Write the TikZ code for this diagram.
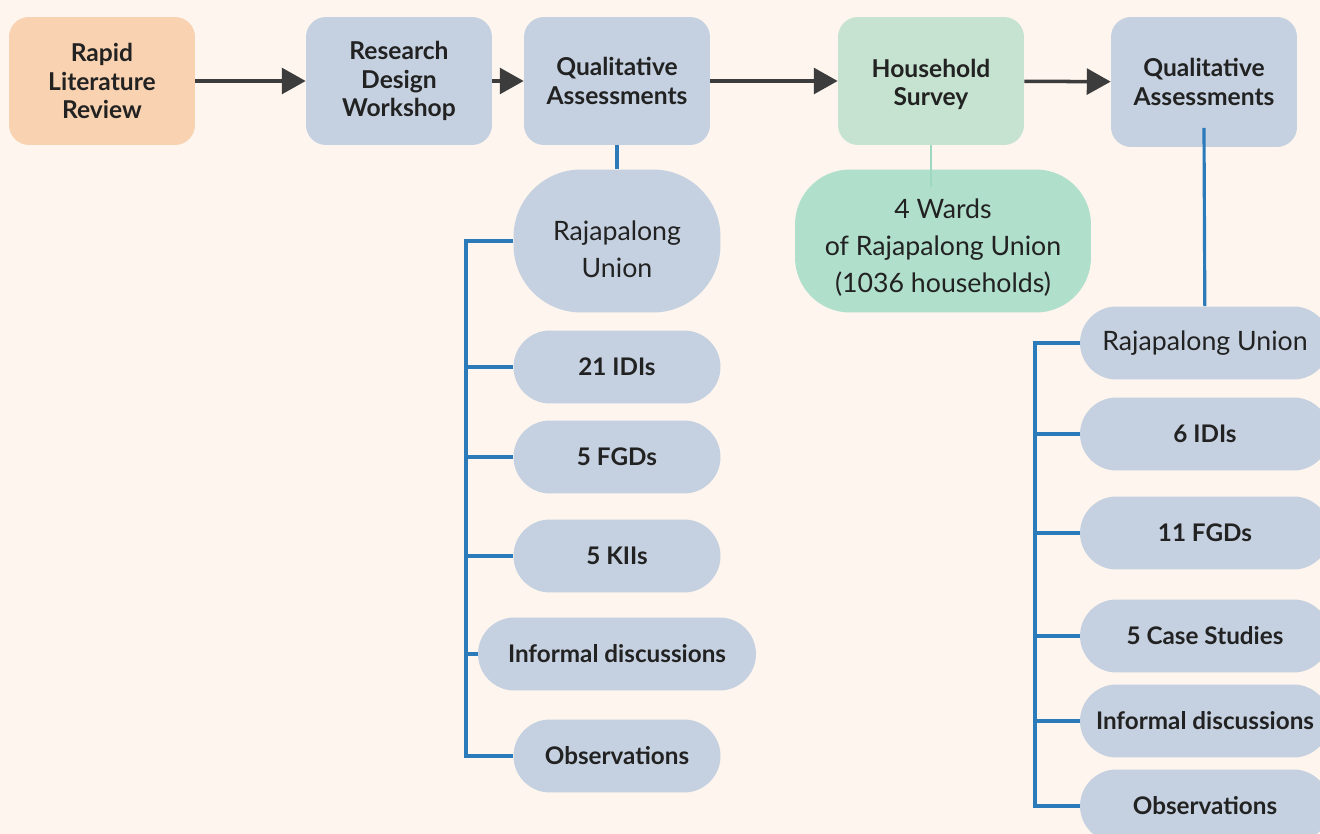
\documentclass[tikz,border=0pt]{standalone}
\usepackage{fontspec}
\setmainfont{Lato}
\usetikzlibrary{arrows.meta,positioning,calc}
\definecolor{bgcol}{HTML}{FDF5EE}
\definecolor{graybox}{HTML}{C5D1E0}
\definecolor{orangebox}{HTML}{F9D3B1}
\definecolor{greenbox}{HTML}{C5E3D0}
\definecolor{wardsbox}{HTML}{B0DFCC}
\definecolor{linkblue}{HTML}{2B7BBA}
\definecolor{linkgreen}{HTML}{9DD8C0}
\definecolor{arrowgray}{HTML}{3C3C3C}
\definecolor{txt}{HTML}{222222}

\begin{document}
\begin{tikzpicture}[x=0.02cm, y=-0.02cm]
            \tikzstyle{stage} = [rectangle, rounded corners=0.4cm, minimum width=3.72cm, minimum height=2.56cm, align=center, text=txt, font=\fontsize{14}{16.2}\selectfont\bfseries]
            \tikzstyle{pill} = [rectangle, rounded corners=0.73cm, fill=graybox, minimum width=4.14cm, minimum height=1.46cm, text=txt, font=\fontsize{13.8}{16}\selectfont\bfseries]
            \tikzstyle{place} = [rectangle, fill=graybox, align=center, text=txt, font=\fontsize{15.2}{21}\selectfont]
            \tikzstyle{flow} = [-{Triangle[length=13.6pt, width=14.7pt]}, line width=2pt, draw=arrowgray]
            \tikzstyle{link} = [line width=1.8pt, draw=linkblue]
            % background and page size
            \fill[bgcol] (0,0) rectangle (1320,834);
            \useasboundingbox (0,0) rectangle (1320,834);
            % top row
            \node[stage, fill=orangebox] (review) at (102,81) {Rapid\\Literature\\Review};
            \node[stage, fill=graybox] (workshop) at (399,81) {Research\\Design\\Workshop};
            \node[stage, fill=graybox] (qual1) at (617,81) {Qualitative\\Assessments};
            \node[stage, fill=greenbox] (survey) at (931,81) {\rule{0pt}{14pt}Household\\Survey};
            \node[stage, fill=graybox, minimum height=2.6cm] (qual2) at (1204,82) {Qualitative\\Assessments};
            \draw[flow] (review) -- (workshop);
            \draw[flow] (workshop) -- (qual1);
            \draw[flow] (qual1) -- (survey);
            \draw[flow] (survey) -- (qual2);
            % first qualitative round
            \node[place, rounded corners=1.35cm, minimum width=4.14cm, minimum height=2.86cm] (union1) at (617,241) {\rule{0pt}{20.5pt}Rajapalong\\Union};
            \node[pill] (idi1) at (617,367) {21 IDIs};
            \node[pill] (fgd1) at (617,457) {5 FGDs};
            \node[pill] (kii1) at (617,556) {5 KIIs};
            \node[pill, minimum width=5.56cm] (informal1) at (617,654) {Informal discussions};
            \node[pill] (obs1) at (617,756) {Observations};
            \coordinate (bus1) at (466,0);
            \draw[link] (qual1) -- (union1);
            \draw[link] (union1.west) -| (bus1 |- obs1) -- (obs1.west);
            \foreach \n in {idi1, fgd1, kii1, informal1}
                \draw[link] (\n.west) -- (\n.west -| bus1);
            % survey sample
            \node[place, fill=wardsbox, rounded corners=1.1cm, minimum width=5.92cm, minimum height=2.86cm] (wards) at (943,241) {\rule{0pt}{18.4pt}4 Wards\\of Rajapalong Union\\(1036 households)};
            \coordinate (wardsin) at (931,187);
            \draw[line width=1.2pt, draw=linkgreen] (survey) -- (wardsin);
            % second qualitative round
            \node[place, rounded corners=0.73cm, minimum width=5cm, minimum height=1.46cm] (union2) at (1205,343) {Rajapalong Union};
            \node[pill, minimum width=5cm] (idi2) at (1205,434) {6 IDIs};
            \node[pill, minimum width=5cm] (fgd2) at (1205,533) {11 FGDs};
            \node[pill, minimum width=5cm] (case2) at (1205,636) {5 Case Studies};
            \node[pill, minimum width=5cm] (informal2) at (1205,721) {Informal discussions};
            \node[pill, minimum width=5cm] (obs2) at (1205,806) {Observations};
            \coordinate (qual2in) at (1204,128);
            \coordinate (bus2) at (1035,0);
            \draw[link] (qual2in) -- (union2);
            \draw[link] (union2.west) -| (bus2 |- obs2) -- (obs2.west);
            \foreach \n in {idi2, fgd2, case2, informal2}
                \draw[link] (\n.west) -- (\n.west -| bus2);
        \end{tikzpicture}
\end{document}
